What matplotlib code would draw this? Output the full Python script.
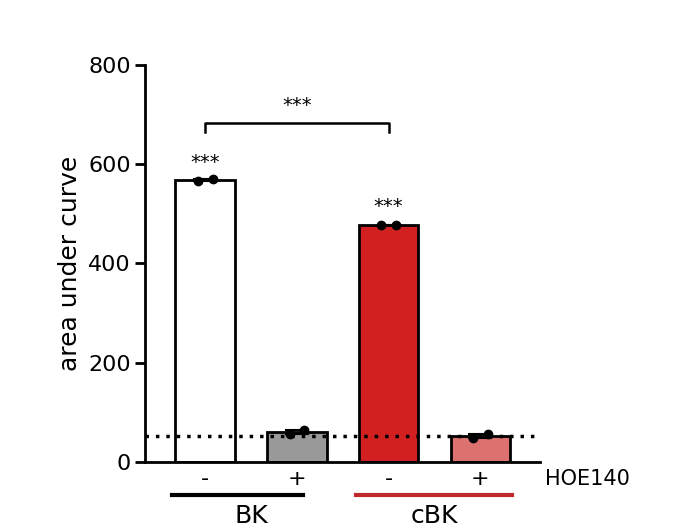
import matplotlib
matplotlib.use("Agg")
import matplotlib.pyplot as plt

# data
means = [568, 60, 477, 52]
points = [[566, 571], [57, 65], [478, 478], [49, 56]]
hoe_labels = ["-", "+", "-", "+"]
bar_colors = ["white", "#999999", "#d21f1f", "#dc7170"]
baseline = 53

fig = plt.figure(figsize=(6.95, 5.28), dpi=100)
ax = fig.add_axes([0.209, 0.125, 0.568, 0.752])

x = range(len(means))
ax.bar(x, means, width=0.65, color=bar_colors, edgecolor="black", linewidth=2, zorder=2)
for i, pts in enumerate(points):
    ax.plot([i - 0.08, i + 0.08], pts, "o", color="black", ms=6, zorder=3)
    lo, hi = min(pts), max(pts)
    ax.plot([i - 0.12, i + 0.12], [hi, hi], color="black", lw=1.5, zorder=3)
    ax.plot([i - 0.12, i + 0.12], [lo, lo], color="black", lw=1.5, zorder=3)

ax.axhline(baseline, color="black", ls=(0, (1, 2)), lw=2.5, zorder=4)

# significance
ax.plot([0, 0, 2, 2], [665, 683, 683, 665], color="black", lw=1.8, clip_on=False)
ax.text(1, 700, "***", ha="center", va="bottom", fontsize=14)
ax.text(0, 585, "***", ha="center", va="bottom", fontsize=14)
ax.text(2, 495, "***", ha="center", va="bottom", fontsize=14)

ax.set_xlim(-0.654, 3.65)
ax.set_ylim(0, 800)
ax.set_yticks([0, 200, 400, 600, 800])
ax.set_xticks([])
ax.tick_params(axis="y", labelsize=16, width=2, length=7)
ax.set_ylabel("area under curve", fontsize=18)
for s in ["top", "right"]:
    ax.spines[s].set_visible(False)
ax.spines["left"].set_linewidth(2)
ax.spines["bottom"].set_linewidth(2)

for i, lab in enumerate(hoe_labels):
    ax.text(i, -35, lab, ha="center", va="center", fontsize=16, clip_on=False)
ax.text(3.7, -35, "HOE140", ha="left", va="center", fontsize=15, clip_on=False)

ax.plot([-0.36, 1.07], [-66, -66], color="black", lw=3, clip_on=False)
ax.plot([1.64, 3.35], [-66, -66], color="#c0282b", lw=3, clip_on=False)
ax.text(0.5, -108, "BK", ha="center", va="center", fontsize=18)
ax.text(2.5, -108, "cBK", ha="center", va="center", fontsize=18)

fig.savefig("out.png", dpi=100)
